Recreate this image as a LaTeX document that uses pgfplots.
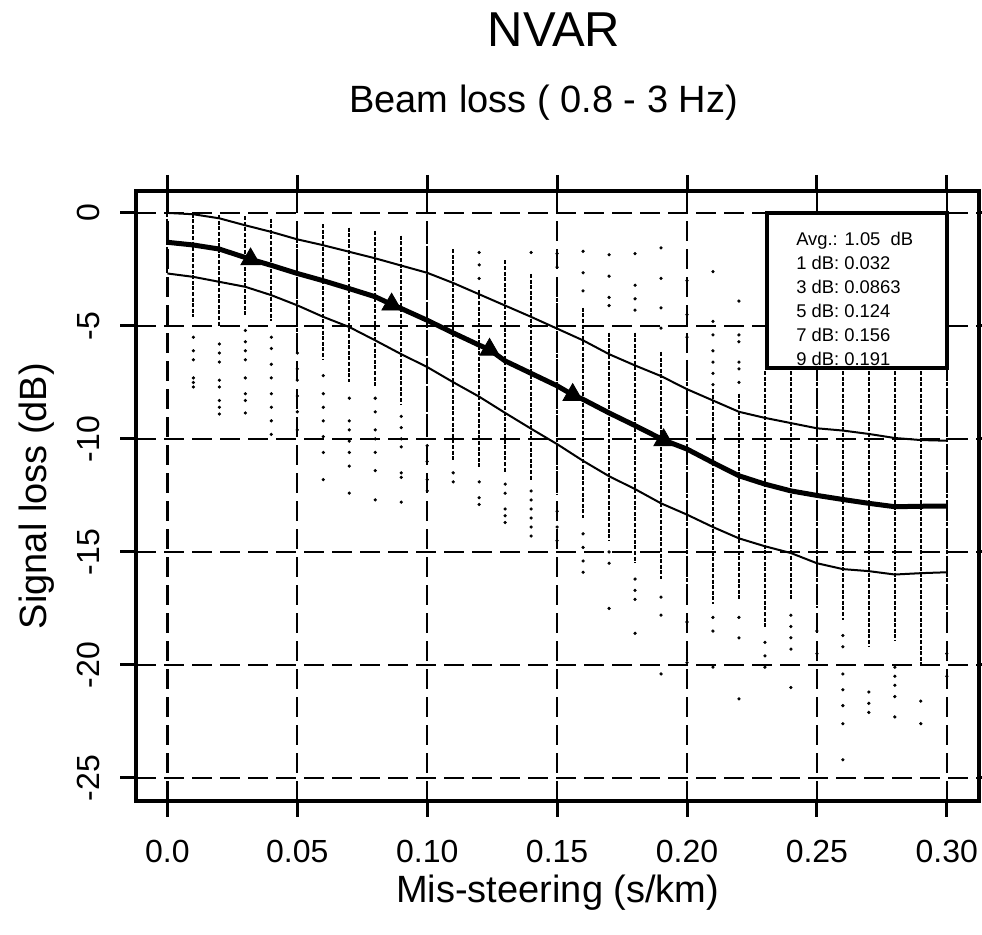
\documentclass[border=0pt]{standalone}
\usepackage{fontspec}
\setmainfont{Liberation Sans}
\usepackage{pgfplots}
\pgfplotsset{compat=1.18}
\begin{document}
\begin{tikzpicture}
\begin{axis}[name=ax, at={(0,0)}, anchor=south west,
  scale only axis, width=421.25pt, height=305pt,
  xmin=-0.0119, xmax=0.3124, ymin=-26.02, ymax=0.97,
  xtick={0,0.05,0.1,0.15,0.2,0.25,0.3},
  xticklabels={0.0,0.05,0.10,0.15,0.20,0.25,0.30},
  ytick={-25,-20,-15,-10,-5,0},
  yticklabels={-25,-20,-15,-10,-5,0},
  /pgf/number format/assume math mode=true,
  tick align=outside, major tick length=8pt,
  every tick/.style={line width=1.5pt, black},
  axis line style={line width=2pt},
  grid=major,
  major grid style={line width=1.1pt, dash pattern=on 10pt off 4pt, black},
  tick label style={font=\fontsize{16}{19}\selectfont},
  xticklabel style={anchor=base}, xticklabel shift=23pt,
  yticklabel style={rotate=90, anchor=base}, yticklabel shift=10.25pt,
  xlabel={Mis-steering (s/km)},
  ylabel={Signal loss (dB)},
  xlabel style={at={([yshift=-51pt]axis description cs:0.5,0)}, anchor=base, font=\fontsize{19}{22}\selectfont},
  ylabel style={at={([xshift=-44.75pt]axis description cs:0,0.5)}, anchor=base, font=\fontsize{19}{22}\selectfont},
  title={Beam loss ( 0.8 - 3 Hz)},
  title style={at={([xshift=-7.1pt,yshift=33pt]axis description cs:0.5,1)}, anchor=base, font=\fontsize{19}{22}\selectfont},
  unbounded coords=jump,
]
% dense parts of the scatter columns
\addplot[black, line width=1pt, dash pattern=on 2pt off 0.8pt] coordinates {
(0,0) (0,-2.7) (0,nan)
(0.01,-0.03) (0.01,-4.6) (0.01,nan)
(0.02,-0.1) (0.02,-5.0) (0.02,nan)
(0.03,-0.15) (0.03,-4.6) (0.03,nan)
(0.04,-0.25) (0.04,-4.8) (0.04,nan)
(0.05,-0.4) (0.05,-5.5) (0.05,nan)
(0.06,-0.5) (0.06,-6.5) (0.06,nan)
(0.07,-0.65) (0.07,-7.5) (0.07,nan)
(0.08,-0.8) (0.08,-7.7) (0.08,nan)
(0.09,-1.0) (0.09,-8.5) (0.09,nan)
(0.10,-1.2) (0.10,-9.5) (0.10,nan)
(0.11,-1.6) (0.11,-11.0) (0.11,nan)
(0.12,-3.4) (0.12,-11.3) (0.12,nan)
(0.13,-2.1) (0.13,-11.5) (0.13,nan)
(0.14,-2.7) (0.14,-11.8) (0.14,nan)
(0.15,-3.0) (0.15,-12.5) (0.15,nan)
(0.16,-4.2) (0.16,-13.5) (0.16,nan)
(0.17,-5.3) (0.17,-14.5) (0.17,nan)
(0.18,-5.3) (0.18,-15.5) (0.18,nan)
(0.19,-6.15) (0.19,-16.2) (0.19,nan)
(0.20,-6.5) (0.20,-16.5) (0.20,nan)
(0.21,-7.8) (0.21,-17.3) (0.21,nan)
(0.22,-8.0) (0.22,-17.1) (0.22,nan)
(0.23,-7.0) (0.23,-18.3) (0.23,nan)
(0.24,-7.0) (0.24,-17.1) (0.24,nan)
(0.25,-7.0) (0.25,-17.5) (0.25,nan)
(0.26,-7.0) (0.26,-18.0) (0.26,nan)
(0.27,-7.0) (0.27,-19.2) (0.27,nan)
(0.28,-7.0) (0.28,-18.9) (0.28,nan)
(0.29,-7.0) (0.29,-20.1) (0.29,nan)
(0.30,-7.0) (0.30,-18.5)
};
% sparse points of the scatter columns
\addplot[only marks, mark=*, mark size=0.6pt, black] coordinates {
(0.01,-5.5) (0.01,-6.1) (0.01,-6.5) (0.01,-7.3) (0.01,-7.5) (0.01,-7.7)
(0.02,-5.8) (0.02,-6.2) (0.02,-6.6) (0.02,-7.4) (0.02,-7.7) (0.02,-8.3) (0.02,-8.6) (0.02,-8.9)
(0.03,-5.2) (0.03,-5.7) (0.03,-6.1) (0.03,-6.5) (0.03,-7.3) (0.03,-8.0) (0.03,-8.3) (0.03,-8.85)
(0.04,-5.5) (0.04,-6.0) (0.04,-6.7) (0.04,-7.3) (0.04,-8.0) (0.04,-8.6) (0.04,-9.2) (0.04,-9.8)
(0.05,-6.2) (0.05,-6.9) (0.05,-7.4) (0.05,-8.1) (0.05,-8.8) (0.05,-9.6)
(0.06,-7.2) (0.06,-8.0) (0.06,-8.6) (0.06,-9.2) (0.06,-9.9) (0.06,-10.6) (0.06,-11.8)
(0.07,-8.2) (0.07,-9.2) (0.07,-9.6) (0.07,-10.1) (0.07,-10.6) (0.07,-11.2) (0.07,-12.4)
(0.08,-8.2) (0.08,-8.8) (0.08,-9.6) (0.08,-10.0) (0.08,-10.6) (0.08,-11.4) (0.08,-12.7)
(0.09,-9.0) (0.09,-9.5) (0.09,-10.0) (0.09,-10.35) (0.09,-11.5) (0.09,-11.7) (0.09,-12.8)
(0.10,-10.3) (0.10,-11.0) (0.10,-11.8) (0.10,-12.3)
(0.11,-11.5) (0.11,-11.9)
(0.12,-1.75) (0.12,-2.3) (0.12,-2.9) (0.12,-11.9) (0.12,-12.6) (0.12,-12.9)
(0.13,-12.0) (0.13,-12.4) (0.13,-13.1) (0.13,-13.4) (0.13,-13.7)
(0.14,-1.75) (0.14,-12.3) (0.14,-12.7) (0.14,-13.1) (0.14,-13.5) (0.14,-13.9) (0.14,-14.3)
(0.15,-1.8) (0.15,-2.4) (0.15,-13.2) (0.15,-13.9) (0.15,-14.5)
(0.16,-1.7) (0.16,-2.65) (0.16,-3.45) (0.16,-14.2) (0.16,-14.8) (0.16,-15.4) (0.16,-15.9)
(0.17,-1.85) (0.17,-2.8) (0.17,-3.74) (0.17,-4.1) (0.17,-15.0) (0.17,-15.5) (0.17,-17.5)
(0.18,-1.8) (0.18,-3.2) (0.18,-3.8) (0.18,-4.3) (0.18,-16.2) (0.18,-16.7) (0.18,-17.1) (0.18,-18.6)
(0.19,-1.55) (0.19,-2.9) (0.19,-4.2) (0.19,-5.1) (0.19,-17.0) (0.19,-17.8) (0.19,-20.4)
(0.20,-3.0) (0.20,-4.5) (0.20,-5.5) (0.20,-18.1) (0.20,-19.9)
(0.21,-2.6) (0.21,-4.8) (0.21,-5.4) (0.21,-6.1) (0.21,-6.6) (0.21,-7.1) (0.21,-7.6) (0.21,-17.9) (0.21,-18.5) (0.21,-20.1)
(0.22,-3.9) (0.22,-5.4) (0.22,-5.7) (0.22,-6.6) (0.22,-6.9) (0.22,-7.5) (0.22,-17.9) (0.22,-18.8) (0.22,-21.5)
(0.23,-19.0) (0.23,-19.6) (0.23,-20.1)
(0.24,-17.8) (0.24,-18.3) (0.24,-18.8) (0.24,-19.3) (0.24,-21.0)
(0.25,-18.5) (0.25,-19.5)
(0.26,-18.7) (0.26,-19.2) (0.26,-20.4) (0.26,-21.1) (0.26,-21.8) (0.26,-22.6) (0.26,-24.2)
(0.27,-21.2) (0.27,-21.7) (0.27,-22.1)
(0.28,-20.1) (0.28,-20.5) (0.28,-20.9) (0.28,-21.4) (0.28,-22.3)
(0.29,-21.6) (0.29,-22.6)
(0.30,-19.5) (0.30,-20.5)
};
% upper curve
\addplot[black, line width=1pt] coordinates {
(0.00,0.00) (0.01,-0.06) (0.02,-0.24) (0.03,-0.55) (0.04,-0.84) (0.05,-1.17)
(0.06,-1.43) (0.07,-1.72) (0.08,-2.01) (0.09,-2.33) (0.10,-2.65) (0.11,-3.10)
(0.12,-3.60) (0.13,-4.10) (0.14,-4.60) (0.15,-5.12) (0.16,-5.64) (0.17,-6.25)
(0.18,-6.75) (0.19,-7.22) (0.20,-7.80) (0.21,-8.30) (0.22,-8.80) (0.23,-9.07)
(0.24,-9.30) (0.25,-9.53) (0.26,-9.63) (0.27,-9.78) (0.28,-9.96) (0.29,-10.05) (0.30,-10.08)
};
% lower curve
\addplot[black, line width=1pt] coordinates {
(0.00,-2.68) (0.01,-2.83) (0.02,-3.05) (0.03,-3.27) (0.04,-3.64) (0.05,-4.09)
(0.06,-4.60) (0.07,-5.05) (0.08,-5.64) (0.09,-6.25) (0.10,-6.82) (0.11,-7.49)
(0.12,-8.13) (0.13,-8.85) (0.14,-9.55) (0.15,-10.23) (0.16,-10.97) (0.17,-11.65)
(0.18,-12.22) (0.19,-12.85) (0.20,-13.35) (0.21,-13.90) (0.22,-14.40) (0.23,-14.75)
(0.24,-15.05) (0.25,-15.50) (0.26,-15.76) (0.27,-15.85) (0.28,-16.00) (0.29,-15.94) (0.30,-15.90)
};
% mean curve
\addplot[black, line width=2.5pt, line join=round] coordinates {
(0.00,-1.30) (0.01,-1.42) (0.02,-1.60) (0.032,-2.05) (0.04,-2.32) (0.05,-2.68)
(0.06,-3.00) (0.07,-3.35) (0.08,-3.71) (0.0863,-4.05) (0.09,-4.23) (0.10,-4.75)
(0.11,-5.31) (0.12,-5.85) (0.124,-6.05) (0.13,-6.55) (0.14,-7.10) (0.15,-7.65)
(0.156,-8.05) (0.16,-8.25) (0.17,-8.85) (0.18,-9.41) (0.191,-10.05) (0.20,-10.45)
(0.21,-11.05) (0.22,-11.63) (0.23,-12.00) (0.24,-12.30) (0.25,-12.50) (0.26,-12.68)
(0.27,-12.85) (0.28,-13.00) (0.29,-12.98) (0.30,-12.97)
};
% threshold markers
\addplot[only marks, mark=triangle*, mark size=5.6pt, black] coordinates {
(0.032,-2.05) (0.0863,-4.05) (0.124,-6.05) (0.156,-8.05) (0.191,-10.05)
};
\draw[line width=2pt, fill=white] (axis cs:0.2308,0) rectangle (axis cs:0.30,-6.86);
\node[anchor=north west, inner sep=0pt, align=left, font=\fontsize{9.2}{12}\selectfont]
  at (axis cs:0.2419,-0.82) {Avg.: 1.05\ \ dB\\1 dB: 0.032\\3 dB: 0.0863\\5 dB: 0.124\\7 dB: 0.156\\9 dB: 0.191};
\end{axis}
\node[anchor=base, font=\fontsize{24.5}{29}\selectfont] at (208.7pt,377pt) {NVAR};
\pgfresetboundingbox
\path (-68.25pt,-67pt) rectangle (422.75pt,400.5pt);
\end{tikzpicture}
\end{document}
